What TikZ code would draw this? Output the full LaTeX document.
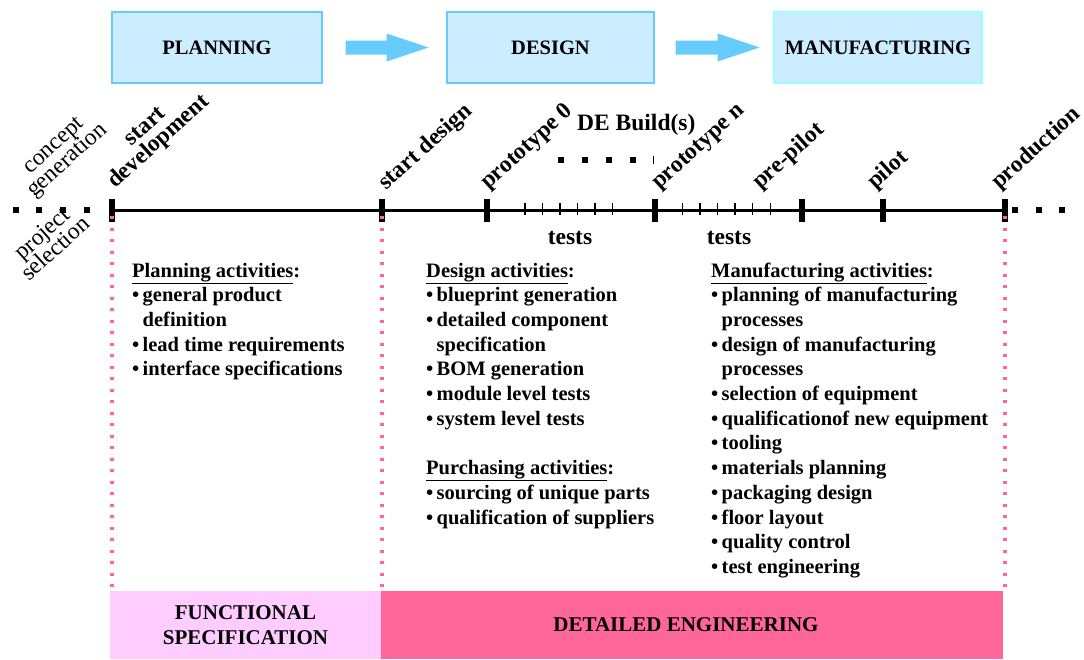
\documentclass[tikz,border=0pt]{standalone}
\usepackage{fontspec}
\setmainfont{Liberation Serif}
\usetikzlibrary{calc}
\definecolor{boxfill}{HTML}{CCECFF}
\definecolor{boxline}{HTML}{66CCFF}
\definecolor{mfgline}{HTML}{99FFFF}
\definecolor{pinkA}{HTML}{FF6699}
\definecolor{pinkB}{HTML}{FFCCFF}
\newcommand\bul{\makebox[10.5pt][l]{\textbullet}}
\newcommand\cnt{\hspace*{10.5pt}}
\newcommand\labfont{\fontsize{23.5}{20}\selectfont}
\begin{document}
\begin{tikzpicture}[x=1pt,y=-1pt,
  phase/.style={draw=boxline, fill=boxfill, line width=1.2pt, minimum height=71pt,
    font=\fontsize{20.5}{24}\selectfont\bfseries, inner sep=0},
  tl/.style={font=\labfont\bfseries, rotate=42, anchor=base west, inner sep=0},
  tlr/.style={font=\labfont, rotate=42, anchor=base west, inner sep=0},
  body/.style={font=\fontsize{20.5}{24.7}\selectfont\bfseries, align=left, anchor=north west, inner sep=0},
  major/.style={line width=6pt},
  minor/.style={line width=1.3pt},
  pdot/.style={pinkA, line width=3.5pt, dash pattern=on 3pt off 8.5pt},
  barfont/.style={font=\fontsize{21}{25}\selectfont\bfseries, align=center, inner sep=0}]
\useasboundingbox (0,0) rectangle (1084,659);
% phase boxes
\node[phase, minimum width=210pt] (plan) at (217,47.5) {PLANNING};
\node[phase, minimum width=207pt] (design) at (550.5,47.5) {DESIGN};
\node[phase, draw=mfgline, minimum width=208pt] (mfg) at (878,47.5) {MANUFACTURING};
\fill[boxline] ($(plan.east)+(23,-7)$) -- ++(41,0) -- ++(0,-7) -- ++(42,14) -- ++(-42,14) -- ++(0,-7) -- ++(-41,0) -- cycle;
\fill[boxline] ($(design.east)+(21,-7)$) -- ++(42,0) -- ++(0,-7) -- ++(42,14) -- ++(-42,14) -- ++(0,-7) -- ++(-42,0) -- cycle;
% timeline
\coordinate (t1) at (112,210);
\coordinate (t2) at (382,210);
\coordinate (t3) at (487,210);
\coordinate (t4) at (655,210);
\coordinate (t5) at (802,210);
\coordinate (t6) at (883,210);
\coordinate (t7) at (1005,210);
\draw[line width=3pt] (t1) -- (t7);
\foreach \c in {t1,t2,t3,t4,t5,t6,t7} \draw[major] ($(\c)+(0,-11)$) -- ($(\c)+(0,12)$);
\foreach \x in {525,542.5,560,577.5,595,612.7,682.7,700,717.7,735,752.7,770.3} \draw[minor] (\x,203) -- (\x,215);
\foreach \x in {16,39,63,87,1015,1039,1062} \fill (\x-3,207) rectangle (\x+3,213);
\foreach \x in {561,585,609,633} \fill (\x-3,157) rectangle (\x+3,163);
\draw[line width=1pt] (653,156) -- (653,164);
% pink dotted lines
\draw[pdot] ($(t1)+(0,6)$) -- (112,591);
\draw[pdot] ($(t2)+(0,6)$) -- (382,591);
\draw[pdot] ($(t7)+(0,6)$) -- (1005,591);
% rotated labels
\node[tlr] (lgen) at (34,198) {generation};
\node[tlr, anchor=base] (lcon) at ($(lgen.base)+(228:20)$) {concept};
\node[tlr] (lsel) at (29,282) {selection};
\node[tlr, anchor=base] (lpro) at ($(lsel.base)+(228:20)$) {project};
\node[tl] (ldev) at (115,189) {development};
\node[tl, anchor=base] (lstart) at ($(ldev.base)+(228:20)$) {start};
\node[tl] (lsd) at (386,191) {start design};
\node[tl] (lp0) at (488,190) {prototype 0};
\node[tl] (lpn) at (659,190) {prototype n};
\node[tl] (lpp) at (760,190) {pre-pilot};
\node[tl] (lpi) at (875,190) {pilot};
\node[tl] (lpr) at (999,190) {production};
\node[font=\labfont\bfseries, anchor=base west, inner sep=0] (deb) at (577,130) {DE Build(s)};
\node[font=\labfont\bfseries, anchor=base, inner sep=0] (ts1) at (570,244) {tests};
\node[font=\labfont\bfseries, anchor=base, inner sep=0] (ts2) at (729,244) {tests};
% activity lists
\node[body] (pa) at (132,259.6) {\strut\underline{Planning activities}:\\
\bul general product\\ \cnt definition\\ \bul lead time requirements\\ \bul interface specifications};
\node[body] (da) at (426,259.6) {\strut\underline{Design activities}:\\
\bul blueprint generation\\ \bul detailed component\\ \cnt specification\\ \bul BOM generation\\
\bul module level tests\\ \bul system level tests\\ \strut\\ \underline{Purchasing activities}:\\
\bul sourcing of unique parts\\ \bul qualification of suppliers};
\node[body] (ma) at (711,259.6) {\strut\underline{Manufacturing activities}:\\
\bul planning of manufacturing\\ \cnt processes\\ \bul design of manufacturing\\ \cnt processes\\
\bul selection of equipment\\ \bul qualificationof new equipment\\ \bul tooling\\
\bul materials planning\\ \bul packaging design\\ \bul floor layout\\ \bul quality control\\ \bul test engineering};
% bottom bars
\fill[pinkB] (110,591) rectangle (381,659);
\fill[pinkA] (381,591) rectangle (1003,659);
\node[barfont] (fs) at (245.5,625) {FUNCTIONAL\\SPECIFICATION};
\node[barfont] (de) at (686,625) {DETAILED ENGINEERING};
\end{tikzpicture}
\end{document}
